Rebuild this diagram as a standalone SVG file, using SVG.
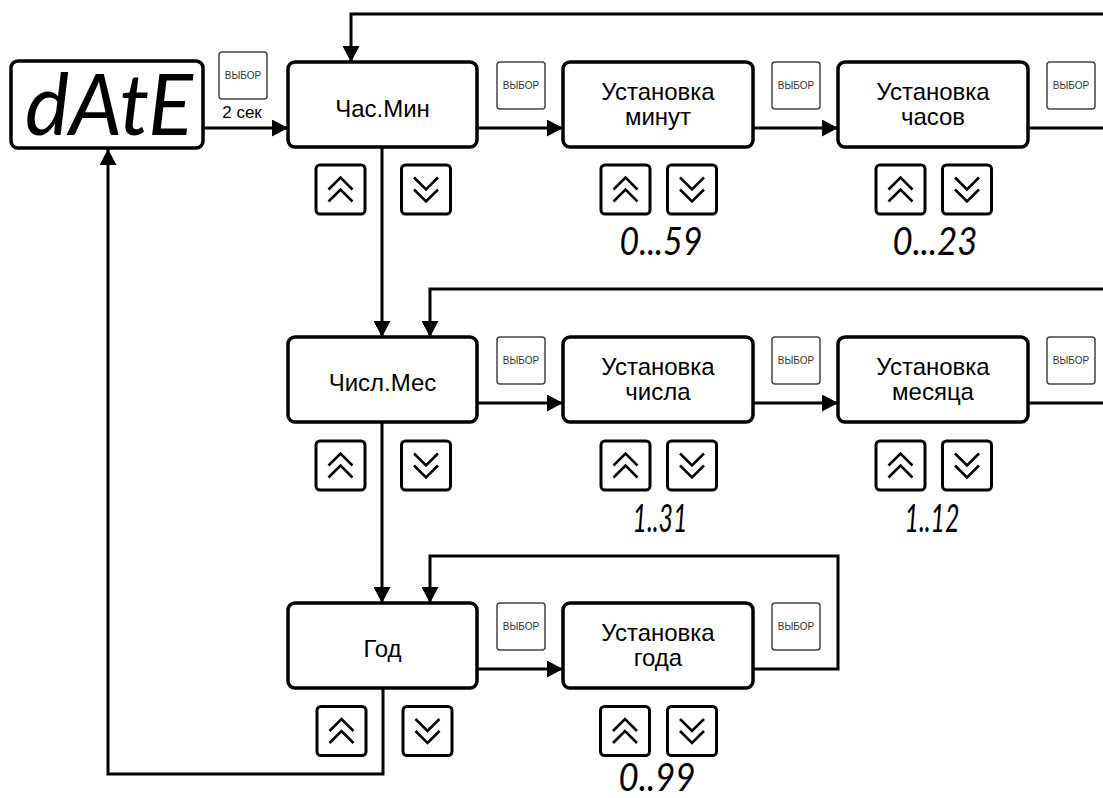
<svg xmlns="http://www.w3.org/2000/svg" xmlns:xlink="http://www.w3.org/1999/xlink" width="1103" height="798" viewBox="0 0 1103 798">
<style>
.box{fill:#fff;stroke:#000;stroke-width:3.5}
.lbl{font-family:"Liberation Sans",Arial,sans-serif;font-size:24px;fill:#000;text-anchor:middle}
.sel{fill:#fff;stroke:#444;stroke-width:1.5}
.selt{font-family:"Liberation Sans",Arial,sans-serif;font-size:10px;fill:#333;text-anchor:middle}
.btn{fill:#fff;stroke:#000;stroke-width:3}
.chev{fill:none;stroke:#000;stroke-width:2.6}
.seg{font-family:Lato,"Liberation Sans",Arial,sans-serif;font-style:italic;font-weight:400;font-size:38px;fill:#000;text-anchor:middle}
.con{fill:none;stroke:#000;stroke-width:3}
</style>
<defs>
<marker id="ah" markerUnits="userSpaceOnUse" markerWidth="17" markerHeight="17" refX="16" refY="8.5" orient="auto">
<path d="M0,0 L16,8.5 L0,17 z" fill="#000"/>
</marker>
<g id="up">
<rect class="btn" x="-24.5" y="-24.5" width="49" height="49" rx="4"/>
<path class="chev" d="M-12,0 L0,-12 L12,0 M-12,12 L0,0 L12,12"/>
</g>
<g id="dn">
<rect class="btn" x="-24.5" y="-24.5" width="49" height="49" rx="4"/>
<path class="chev" d="M-12,-12 L0,0 L12,-12 M-12,0 L0,12 L12,0"/>
</g>
<g id="sel">
<rect class="sel" x="0" y="0" width="48" height="47" rx="3"/>
<text class="selt" x="24" y="27">ВЫБОР</text>
</g>
</defs>
<rect width="1103" height="798" fill="#fff"/>

<g id="connectors">
<path class="con" d="M204,128 H288" marker-end="url(#ah)"/>
<path class="con" d="M477,128 H563" marker-end="url(#ah)"/>
<path class="con" d="M753,128 H838" marker-end="url(#ah)"/>
<path class="con" d="M1028,128 H1110 V14 H351 V62" marker-end="url(#ah)"/>
<path class="con" d="M382,147 V337" marker-end="url(#ah)"/>
<path class="con" d="M477,403 H563" marker-end="url(#ah)"/>
<path class="con" d="M753,403 H838" marker-end="url(#ah)"/>
<path class="con" d="M1028,403 H1110 V289 H430 V337" marker-end="url(#ah)"/>
<path class="con" d="M382,422 V603" marker-end="url(#ah)"/>
<path class="con" d="M477,669 H563" marker-end="url(#ah)"/>
<path class="con" d="M753,669 H838 V556 H430 V603" marker-end="url(#ah)"/>
<path class="con" d="M383,688 V774 H108 V149" marker-end="url(#ah)"/>
</g>

<g id="date">
<rect class="box" x="11" y="61" width="192" height="87" rx="7" stroke-width="4"/>
<text x="25" y="135" font-family="Lato, Liberation Sans, Arial, sans-serif" font-style="italic" font-weight="400" font-size="86" textLength="168" lengthAdjust="spacingAndGlyphs">dAtE</text>
</g>
<g id="sel0">
<use xlink:href="#sel" x="219" y="52"/>
<text x="242" y="118" font-family="Liberation Sans, Arial, sans-serif" font-size="17" text-anchor="middle">2 сек</text>
</g>

<g id="chasmin">
<rect class="box" x="288" y="62" width="189" height="85" rx="7"/>
<text class="lbl" x="382.5" y="117">Час.Мин</text>
<use xlink:href="#up" x="340.5" y="189.5"/>
<use xlink:href="#dn" x="426" y="189.5"/>
</g>
<g id="sel1"><use xlink:href="#sel" x="497" y="62"/></g>
<g id="ust-min">
<rect class="box" x="563" y="62" width="190" height="85" rx="7"/>
<text class="lbl" x="658" y="100">Установка</text>
<text class="lbl" x="658" y="125">минут</text>
<use xlink:href="#up" x="625.5" y="189.5"/>
<use xlink:href="#dn" x="692" y="189.5"/>
<text class="seg" x="661" y="255" textLength="83" lengthAdjust="spacingAndGlyphs">0...59</text>
</g>
<g id="sel2"><use xlink:href="#sel" x="772" y="62"/></g>
<g id="ust-chas">
<rect class="box" x="838" y="62" width="190" height="85" rx="7"/>
<text class="lbl" x="933" y="100">Установка</text>
<text class="lbl" x="933" y="125">часов</text>
<use xlink:href="#up" x="900.5" y="189.5"/>
<use xlink:href="#dn" x="967" y="189.5"/>
<text class="seg" x="935" y="255" textLength="85" lengthAdjust="spacingAndGlyphs">0...23</text>
</g>
<g id="sel3"><use xlink:href="#sel" x="1047" y="62"/></g>

<g id="chislmes">
<rect class="box" x="288" y="337" width="189" height="85" rx="7"/>
<text class="lbl" x="382.5" y="391">Числ.Мес</text>
<use xlink:href="#up" x="340.5" y="465.5"/>
<use xlink:href="#dn" x="426" y="465.5"/>
</g>
<g id="sel4"><use xlink:href="#sel" x="497" y="337"/></g>
<g id="ust-chisla">
<rect class="box" x="563" y="337" width="190" height="85" rx="7"/>
<text class="lbl" x="658" y="375">Установка</text>
<text class="lbl" x="658" y="400">числа</text>
<use xlink:href="#up" x="625.5" y="465.5"/>
<use xlink:href="#dn" x="692" y="465.5"/>
<text class="seg" x="660" y="532" textLength="55" lengthAdjust="spacingAndGlyphs">1..31</text>
</g>
<g id="sel5"><use xlink:href="#sel" x="772" y="337"/></g>
<g id="ust-mes">
<rect class="box" x="838" y="337" width="190" height="85" rx="7"/>
<text class="lbl" x="933" y="375">Установка</text>
<text class="lbl" x="933" y="400">месяца</text>
<use xlink:href="#up" x="900.5" y="465.5"/>
<use xlink:href="#dn" x="967" y="465.5"/>
<text class="seg" x="932" y="532" textLength="55" lengthAdjust="spacingAndGlyphs">1..12</text>
</g>
<g id="sel6"><use xlink:href="#sel" x="1047" y="337"/></g>

<g id="god">
<rect class="box" x="288" y="603" width="189" height="85" rx="7"/>
<text class="lbl" x="382.5" y="657">Год</text>
<use xlink:href="#up" x="341.5" y="731"/>
<use xlink:href="#dn" x="427.5" y="731"/>
</g>
<g id="sel7"><use xlink:href="#sel" x="497" y="603"/></g>
<g id="ust-god">
<rect class="box" x="563" y="603" width="190" height="85" rx="7"/>
<text class="lbl" x="658" y="641">Установка</text>
<text class="lbl" x="658" y="666">года</text>
<use xlink:href="#up" x="625" y="731"/>
<use xlink:href="#dn" x="692" y="731"/>
<text class="seg" x="657" y="791" textLength="77" lengthAdjust="spacingAndGlyphs">0..99</text>
</g>
<g id="sel8"><use xlink:href="#sel" x="772" y="603"/></g>
</svg>
